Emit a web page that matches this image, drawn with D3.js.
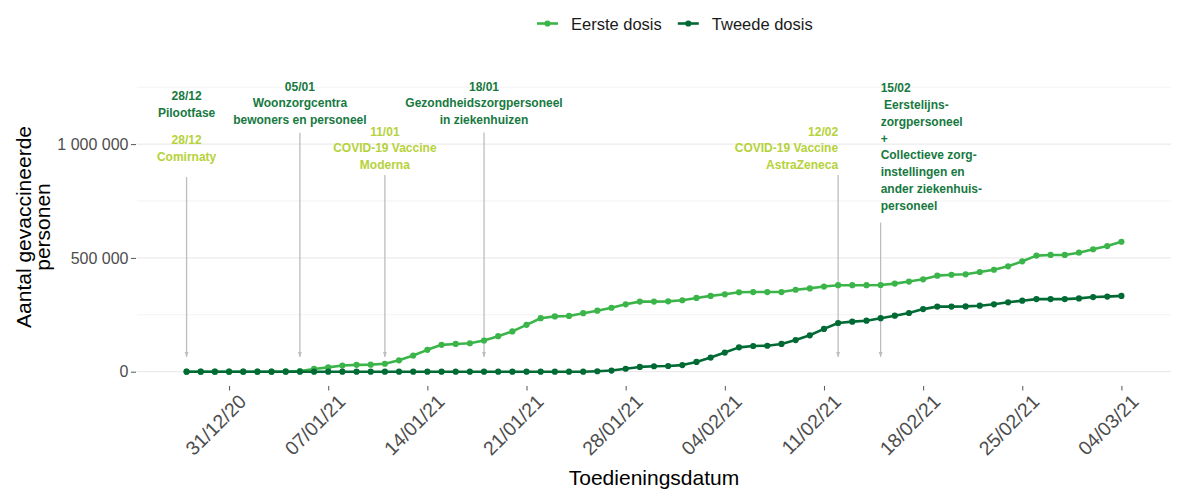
<!DOCTYPE html>
<html>
<head>
<meta charset="utf-8">
<script src="https://cdn.jsdelivr.net/npm/d3@7"></script>
<style>
  body { margin: 0; background: #fff; }
  svg text { font-family: "Liberation Sans", Arial, sans-serif; }
</style>
</head>
<body>
<svg id="chart" width="1184" height="489"></svg>
<script>
// toedieningsdatum, one point per day
var dates = [
  "28/12/20","29/12/20","30/12/20","31/12/20",
  "01/01/21","02/01/21","03/01/21","04/01/21","05/01/21","06/01/21","07/01/21","08/01/21",
  "09/01/21","10/01/21","11/01/21","12/01/21","13/01/21","14/01/21","15/01/21","16/01/21",
  "17/01/21","18/01/21","19/01/21","20/01/21","21/01/21","22/01/21","23/01/21","24/01/21",
  "25/01/21","26/01/21","27/01/21","28/01/21","29/01/21","30/01/21","31/01/21",
  "01/02/21","02/02/21","03/02/21","04/02/21","05/02/21","06/02/21","07/02/21","08/02/21",
  "09/02/21","10/02/21","11/02/21","12/02/21","13/02/21","14/02/21","15/02/21","16/02/21",
  "17/02/21","18/02/21","19/02/21","20/02/21","21/02/21","22/02/21","23/02/21","24/02/21",
  "25/02/21","26/02/21","27/02/21","28/02/21",
  "01/03/21","02/03/21","03/03/21","04/03/21"
];

var eerste = [
  0, 0, 0, 0, 0, 0, 0, 1000, 3000, 12000, 19000, 27000,
  30000, 31000, 35000, 50000, 71000, 96000, 118000, 122000,
  125000, 137000, 156000, 177000, 206000, 235000, 243000, 245000,
  257000, 268000, 281000, 296000, 308000, 308000, 309000,
  314000, 324000, 333000, 340000, 349000, 350000, 350000, 350000,
  360000, 366000, 374000, 380000, 380000, 380000, 381000, 387000,
  396000, 406000, 422000, 426000, 428000, 438000, 448000, 463000,
  485000, 510000, 513000, 513000,
  523000, 538000, 552000, 571000
];

var tweede = [
  0, 0, 0, 0, 0, 0, 0, 0, 0, 0, 0, 0,
  0, 0, 0, 0, 0, 0, 0, 0,
  0, 0, 0, 0, 0, 0, 0, 0,
  0, 2000, 5000, 13000, 21000, 24000, 25000,
  29000, 43000, 62000, 84000, 107000, 113000, 114000, 122000,
  139000, 160000, 188000, 214000, 220000, 224000, 235000, 246000,
  258000, 275000, 286000, 286000, 287000, 290000, 296000, 305000,
  312000, 319000, 319000, 319000,
  322000, 328000, 330000, 333000
];

var seriesNames = ["Eerste dosis", "Tweede dosis"];
var seriesColors = ["#3bb54a", "#006a35"];

var xTicks = ["31/12/20","07/01/21","14/01/21","21/01/21","28/01/21",
              "04/02/21","11/02/21","18/02/21","25/02/21","04/03/21"];
var yTicks = [0, 500000, 1000000];
var yMinor = [250000, 750000, 1250000];

// milestones: text, date, and kind (fase = doelgroep, vaccin = goedgekeurd vaccin)
var milestoneDates = ["28/12/20", "28/12/20", "05/01/21", "11/01/21", "18/01/21", "12/02/21", "15/02/21"];
var milestoneLines = [
  ["28/12", "Pilootfase"],
  ["28/12", "Comirnaty"],
  ["05/01", "Woonzorgcentra", "bewoners en personeel"],
  ["11/01", "COVID-19 Vaccine", "Moderna"],
  ["18/01", "Gezondheidszorgpersoneel", "in ziekenhuizen"],
  ["12/02", "COVID-19 Vaccine", "AstraZeneca"],
  ["15/02", " Eerstelijns-", "zorgpersoneel", "+", "Collectieve zorg-", "instellingen en", "ander ziekenhuis-", "personeel"]
];
var milestoneKind = ["fase", "vaccin", "fase", "vaccin", "fase", "vaccin", "fase"];
var milestoneAlign = ["middle", "middle", "middle", "middle", "middle", "end", "start"];
// label level and arrow span, in persons (y units)
var milestoneLevel = [1194000, 1000000, 1235000, 1037000, 1235000, 1037000, 1228000];
var arrowTop = [null, 855000, 1050000, 864000, 1051000, 864000, 655000];
var arrowBottom = 65000;

(function () {
  var svg = d3.select("svg#chart");
  var parse = d3.timeParse("%d/%m/%y");
  var fmtTick = d3.timeFormat("%d/%m/%y");
  var nl = d3.formatLocale({decimal: ",", thousands: " ", grouping: [3], currency: ["", ""]});
  var fmtY = nl.format(",");

  var left = 137, right = 1171, bottom = 386;
  var first = parse(dates[0]), last = parse(dates[dates.length - 1]);
  var pad = 3.5 * 864e5;
  var x = d3.scaleTime()
      .domain([new Date(+first - pad), new Date(+last + pad)])
      .range([left, right]);
  var y = d3.scaleLinear().domain([0, 1000000]).range([371.7, 144.1]);

  // grid
  var grid = svg.append("g");
  grid.selectAll("line.minor").data(yMinor).enter().append("line")
      .attr("x1", left).attr("x2", right)
      .attr("y1", d => y(d)).attr("y2", d => y(d))
      .attr("stroke", "#f3f3f3").attr("stroke-width", 1);
  grid.selectAll("line.major").data(yTicks).enter().append("line")
      .attr("x1", left).attr("x2", right)
      .attr("y1", d => y(d)).attr("y2", d => y(d))
      .attr("stroke", "#ebebeb").attr("stroke-width", 1.2);

  // y axis
  var yAxis = d3.axisLeft(y).tickValues(yTicks).tickFormat(fmtY).tickSize(5).tickPadding(2.5);
  var gy = svg.append("g").attr("transform", "translate(" + (left - 1) + ",0)").call(yAxis);
  gy.select(".domain").remove();
  gy.selectAll(".tick line").attr("stroke", "#555");
  gy.selectAll("text").attr("fill", "#4d4d4d").style("font-size", "16px");

  // x axis
  var xAxis = d3.axisBottom(x).tickValues(xTicks.map(parse)).tickFormat(fmtTick).tickSize(4.5);
  var gx = svg.append("g").attr("transform", "translate(0," + bottom + ")").call(xAxis);
  gx.select(".domain").remove();
  gx.selectAll(".tick line").attr("stroke", "#555");
  gx.selectAll("text")
      .attr("fill", "#4d4d4d").style("font-size", "19.5px")
      .attr("text-anchor", "end")
      .attr("x", 0).attr("y", 0).attr("dy", "0.72em")
      .attr("transform", "translate(8,7) rotate(-45)");

  // axis titles
  svg.append("text")
      .attr("x", (left + right) / 2).attr("y", 485)
      .attr("text-anchor", "middle").style("font-size", "21px").attr("fill", "#000")
      .text("Toedieningsdatum");
  var yt = svg.append("text")
      .attr("transform", "translate(0,227) rotate(-90)")
      .attr("text-anchor", "middle").style("font-size", "21px").attr("fill", "#000");
  yt.append("tspan").attr("x", 0).attr("y", 31).text("Aantal gevaccineerde");
  yt.append("tspan").attr("x", 0).attr("y", 50).text("personen");

  // arrows
  svg.append("defs").append("marker")
      .attr("id", "arr").attr("viewBox", "0 0 10 10")
      .attr("refX", 10).attr("refY", 5)
      .attr("markerWidth", 5).attr("markerHeight", 5)
      .attr("markerUnits", "userSpaceOnUse")
      .attr("orient", "auto")
      .append("path").attr("d", "M0,1 L10,5 L0,9 Z").attr("fill", "#bdbdbd");

  var ga = svg.append("g");
  milestoneDates.forEach(function (d, i) {
    if (arrowTop[i] === null) return;
    var ax = x(parse(d));
    ga.append("line")
        .attr("x1", ax).attr("x2", ax)
        .attr("y1", y(arrowTop[i])).attr("y2", y(arrowBottom))
        .attr("stroke", "#bdbdbd").attr("stroke-width", 1.3)
        .attr("marker-end", "url(#arr)");
  });

  // milestone labels
  var gl = svg.append("g");
  milestoneDates.forEach(function (d, i) {
    var ax = x(parse(d));
    var t = gl.append("text")
        .attr("text-anchor", milestoneAlign[i])
        .attr("fill", milestoneKind[i] === "fase" ? "#17793f" : "#b5d23a")
        .style("font-size", "12px").style("font-weight", "bold")
        .attr("xml:space", "preserve");
    milestoneLines[i].forEach(function (s, j) {
      t.append("tspan").attr("x", ax).attr("y", y(milestoneLevel[i]) + j * 16.8).text(s);
    });
  });

  // series
  var values = [eerste, tweede];
  var pts = dates.map(parse);
  var line = d3.line().x((d, i) => x(pts[i])).y(d => y(d));
  values.forEach(function (vals, k) {
    var g = svg.append("g");
    g.append("path").datum(vals)
        .attr("fill", "none").attr("stroke", seriesColors[k])
        .attr("stroke-width", 2.6).attr("stroke-linejoin", "round")
        .attr("d", line);
    g.selectAll("circle").data(vals).enter().append("circle")
        .attr("cx", (d, i) => x(pts[i])).attr("cy", d => y(d))
        .attr("r", 3.1).attr("fill", seriesColors[k]);
  });

  // legend
  var gleg = svg.append("g").attr("transform", "translate(537,23.5)");
  var lx = 0;
  seriesNames.forEach(function (n, k) {
    var it = gleg.append("g").attr("transform", "translate(" + lx + ",0)");
    it.append("line").attr("x1", 0).attr("x2", 21).attr("y1", 0).attr("y2", 0)
        .attr("stroke", seriesColors[k]).attr("stroke-width", 2.6);
    it.append("circle").attr("cx", 10.5).attr("cy", 0).attr("r", 3.1).attr("fill", seriesColors[k]);
    var tx = it.append("text").attr("x", 34).attr("y", 6)
        .style("font-size", "16.5px").attr("fill", "#1a1a1a").text(n);
    lx += 34 + tx.node().getComputedTextLength() + 16;
  });
})();
</script>
</body>
</html>
